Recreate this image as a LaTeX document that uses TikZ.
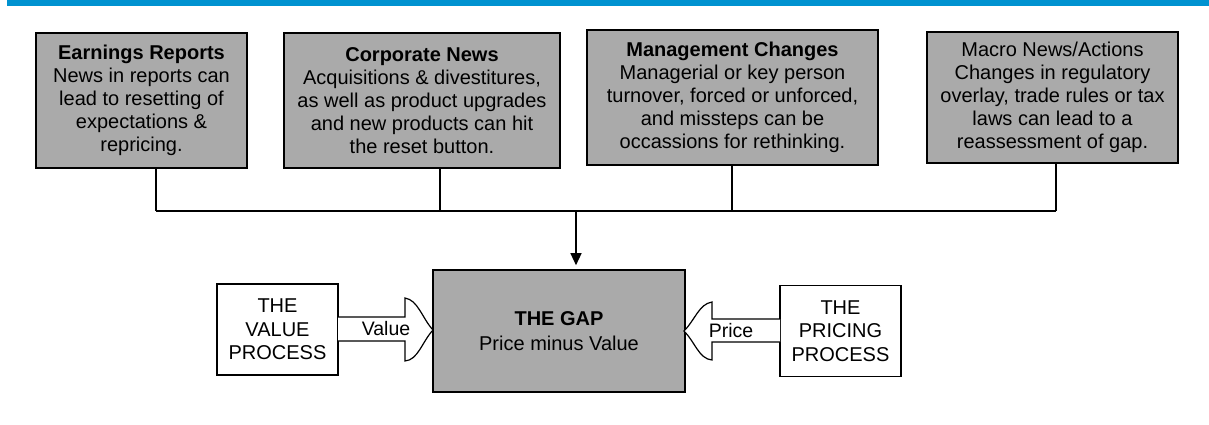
\documentclass[tikz,border=0pt]{standalone}
\usepackage{fontspec}
\setmainfont{Liberation Sans}
\usetikzlibrary{arrows.meta}

\definecolor{bandblue}{RGB}{0,146,208}
\definecolor{boxgray}{RGB}{170,170,170}

\tikzset{
    newsbox/.style={draw, line width=1.6pt, fill=boxgray, align=center,
        inner sep=0pt, font=\fontsize{20}{23}\selectfont},
    procbox/.style={draw, line width=1.4pt, fill=white, align=center,
        inner sep=0pt, minimum width=121, minimum height=91,
        font=\fontsize{20}{23.5}\selectfont},
    busline/.style={line width=1.3pt},
    blockarrow/.style={draw, line width=1.2pt, fill=white},
    arrowlabel/.style={inner sep=0pt, font=\fontsize{19.5}{20}\selectfont},
}

\begin{document}
\begin{tikzpicture}[x=1pt, y=-1pt]
    \useasboundingbox (0,0) rectangle (1209,425);
    \fill[bandblue] (7,0) rectangle (1209,6);

    % the four news boxes
    \node[newsbox, minimum width=211, minimum height=135] (earn) at (141.5,100.5)
        {\textbf{Earnings Reports}\\News in reports can\\lead to resetting of\\expectations \&\\repricing.};
    \node[newsbox, minimum width=276, minimum height=135] (corp) at (422,100.5)
        {\textbf{Corporate News}\\Acquisitions \& divestitures,\\as well as product upgrades\\and new products can hit\\the reset button.};
    \node[newsbox, minimum width=291, minimum height=135] (mgmt) at (732.5,97.5)
        {\textbf{Management Changes}\\Managerial or key person\\turnover, forced or unforced,\\and missteps can be\\occassions for rethinking.};
    \node[newsbox, minimum width=251, minimum height=131] (macro) at (1052.5,97.5)
        {Macro News/Actions\\Changes in regulatory\\overlay, trade rules or tax\\laws can lead to a\\reassessment of gap.};

    % the gap and its two sides
    \node[newsbox, minimum width=252, minimum height=122, font=\fontsize{20}{25}\selectfont] (gap) at (559,331)
        {\textbf{THE GAP}\\Price minus Value};
    \node[procbox] (value) at (277.5,329.5) {THE\\VALUE\\PROCESS};
    \node[procbox] (pricing) at (840.5,331) {THE\\PRICING\\PROCESS};

    % bus line
    \coordinate (b1) at (156,211);
    \coordinate (b2) at (440,211);
    \coordinate (b3) at (732,211);
    \coordinate (b4) at (1056,211);
    \coordinate (bm) at (576,211);

    \draw[busline] (earn.south -| b1) -- (b1);
    \draw[busline] (corp.south -| b2) -- (b2);
    \draw[busline] (mgmt.south -| b3) -- (b3);
    \draw[busline] (macro.south -| b4) -- (b4);
    \draw[busline] (b1) -- (b4);
    \draw[busline, -{Triangle[width=11pt,length=12pt]}, shorten >=4pt] (bm) -- (gap.north -| bm);

    % block arrows into the gap
    \draw[blockarrow] (338,317) -- (405,317) -- (405,298)
        .. controls (418,300) and (422,318) .. (433,330)
        .. controls (422,342) and (418,360) .. (405,361)
        -- (405,341) -- (338,341);
    \node[arrowlabel] (vlabel) at (386,329) {Value};

    \draw[blockarrow] (780,319) -- (712,319) -- (712,302)
        .. controls (699,304) and (695,320) .. (684,331)
        .. controls (695,342) and (699,359) .. (712,360)
        -- (712,342) -- (780,342);
    \node[arrowlabel] (plabel) at (731,331) {Price};
\end{tikzpicture}
\end{document}
